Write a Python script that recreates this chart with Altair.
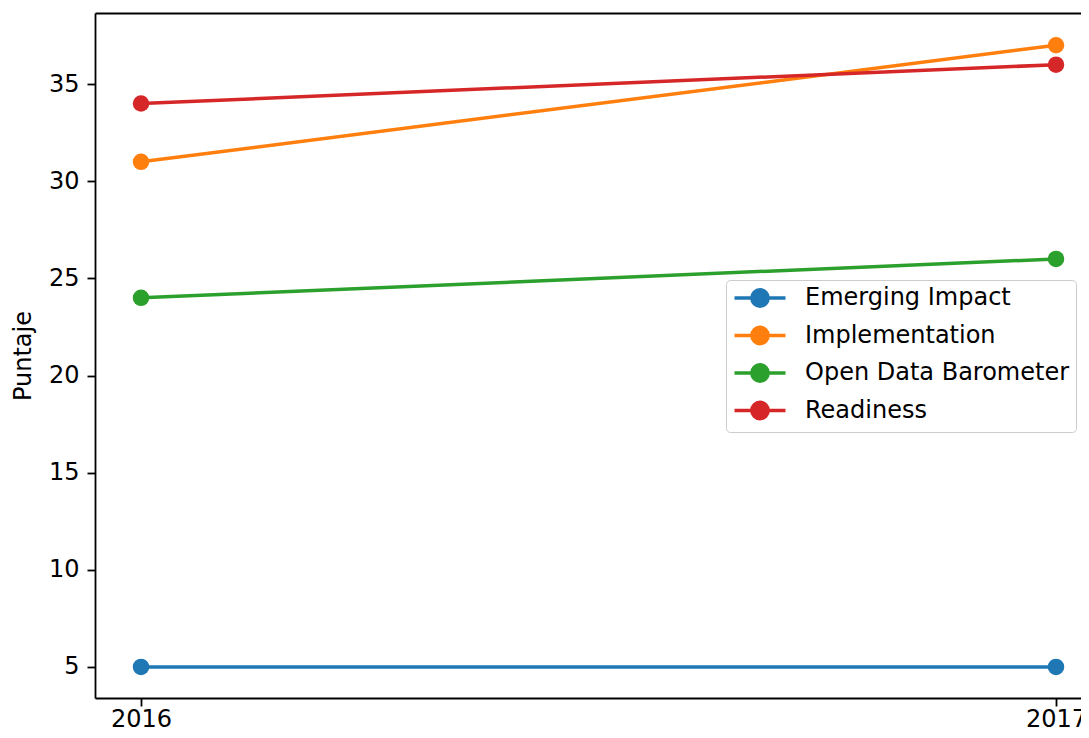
import altair as alt
import pandas as pd

series = ["Emerging Impact", "Implementation", "Open Data Barometer", "Readiness"]
years = [2016, 2017]
emerging_impact = [5, 5]
implementation = [31, 37]
open_data_barometer = [24, 26]
readiness = [34, 36]
colors = ["#1f77b4", "#ff7f0e", "#2ca02c", "#d62728"]
y_ticks = [5, 10, 15, 20, 25, 30, 35]

rows = []
for name, vals in zip(series, [emerging_impact, implementation, open_data_barometer, readiness]):
    for yr, v in zip(years, vals):
        rows.append({"Año": yr, "Puntaje": v, "Serie": name})
df = pd.DataFrame(rows)

FONT = "DejaVu Sans"
FS = 24

# legend glyph: short line with a dot in the middle (line extends past the unit square)
r = 0.8
sym = (f"M-2.5,0H2.5M-{r},0A{r},{r} 0 1,0 {r},0A{r},{r} 0 1,0 -{r},0Z")

color = alt.Color(
    "Serie:N",
    scale=alt.Scale(domain=series, range=colors),
    legend=alt.Legend(
        title=None, orient="none", legendX=631, legendY=267,
        symbolType=sym, symbolSize=416, symbolStrokeWidth=3.5, symbolOffset=16,
        labelFontSize=FS, labelFont=FONT, labelColor="black", labelOffset=33,
        labelLimit=400,
        rowPadding=5.5, padding=6, strokeColor="#cccccc", fillColor="white",
        cornerRadius=4,
    ),
)

xscale = alt.Scale(domain=[2015.9497, 2017.0273], nice=False, zero=False)
yscale = alt.Scale(domain=[3.4, 38.66], nice=False, zero=False)

base = alt.Chart(df)

lines = base.mark_line(strokeWidth=3.5).encode(
    x=alt.X("Año:Q", scale=xscale,
            axis=alt.Axis(values=years, format="d", title=None, grid=False,
                          tickSize=8, labelPadding=1)),
    y=alt.Y("Puntaje:Q", scale=yscale,
            axis=alt.Axis(values=y_ticks, title="Puntaje", grid=False,
                          tickSize=8, labelPadding=8, titlePadding=13)),
    color=color,
)

points = base.mark_point(filled=True, size=272, opacity=1).encode(
    x=alt.X("Año:Q", scale=xscale,
            axis=alt.Axis(orient="top", labels=False, ticks=False, domain=True,
                          title=None, grid=False)),
    y=alt.Y("Puntaje:Q", scale=yscale),
    color=color,
)

chart = alt.layer(lines, points).resolve_axis(x="independent").properties(
    width=986, height=685,
    autosize=alt.AutoSizeParams(type="none"),
    padding={"left": 87, "top": 5, "right": 0, "bottom": 32},
).configure(background="white").configure_view(stroke=None).configure_axis(
    domainColor="black", domainWidth=1.8, tickColor="black", tickWidth=1.8,
    labelFont=FONT, labelFontSize=FS, labelColor="black",
    titleFont=FONT, titleFontSize=FS, titleFontWeight="normal", titleColor="black",
)

chart.save("out.html", embed_options={"renderer": "svg", "actions": False})
